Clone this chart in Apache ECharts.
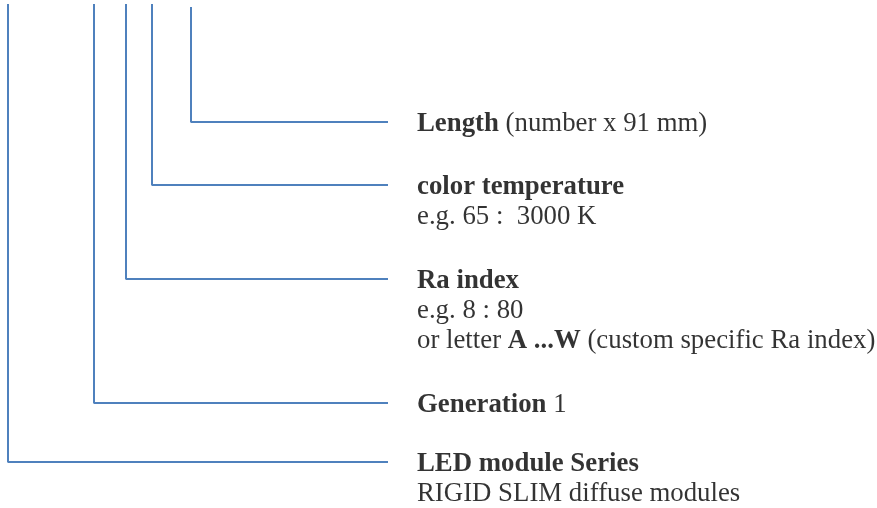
<!DOCTYPE html>
<html>
<head>
<meta charset="utf-8">
<style>
  html, body { margin: 0; padding: 0; background: #fff; }
  #chart { width: 877px; height: 508px; }
</style>
<script src="https://cdn.jsdelivr.net/npm/echarts@6/dist/echarts.min.js"></script>
</head>
<body>
<div id="chart"></div>
<script>
// branch connectors, from outermost (series) to innermost (length)
var branchX = [8, 94, 126, 152, 191];
var branchTop = [4, 4, 4, 4, 7];
var branchY = [462, 403, 279, 185, 122];
var branchEndX = 388;
var textX = 417;

// label lines: each line is a list of [style, text] pieces
var branchLabels = [
  [[['b', 'LED module Series']], [['n', 'RIGID SLIM diffuse modules']]],
  [[['b', 'Generation'], ['n', ' 1']]],
  [[['b', 'Ra index']], [['n', 'e.g. 8 : 80']], [['n', 'or letter '], ['b', 'A ...W'], ['n', ' (custom specific Ra index)']]],
  [[['b', 'color temperature']], [['n', 'e.g. 65 :  3000 K']]],
  [[['b', 'Length'], ['n', ' (number x 91 mm)']]]
];

var blue = '#4F81BD';
var font = "'Liberation Serif', 'Times New Roman', serif";
var fs = 26.8;

function richText(lines) {
  return lines.map(function(line) {
    return line.map(function(p) { return '{' + p[0] + '|' + p[1] + '}'; }).join('');
  }).join('\n');
}

var series = [];
branchX.forEach(function(x, i) {
  series.push({
    type: 'line', silent: true, showSymbol: false, animation: false,
    lineStyle: { color: blue, width: 2 },
    data: [[x, branchTop[i]], [x, branchY[i]], [branchEndX, branchY[i]]]
  });
});

series.push({
  type: 'scatter', silent: true, symbolSize: 0, animation: false,
  data: branchY.map(function(y, i) { return { value: [textX, y - 13], text: richText(branchLabels[i]) }; }),
  label: {
    show: true, position: [0, 0], align: 'left', verticalAlign: 'top',
    formatter: function(p) { return p.data.text; },
    color: '#000', fontFamily: font, fontSize: fs, lineHeight: 30,
    rich: {
      b: { fontWeight: 'bold', fontFamily: font, fontSize: fs, lineHeight: 30, color: '#000' },
      n: { fontWeight: 'normal', fontFamily: font, fontSize: fs, lineHeight: 30, color: '#000' }
    }
  }
});

var chart = echarts.init(document.getElementById('chart'));
chart.setOption({
  animation: false,
  grid: { left: 0, right: 0, top: 0, bottom: 0 },
  xAxis: { type: 'value', min: 0, max: 877, show: false },
  yAxis: { type: 'value', min: 0, max: 508, inverse: true, show: false },
  series: series
});
window.addEventListener('resize', function() { chart.resize(); });
</script>
</body>
</html>
